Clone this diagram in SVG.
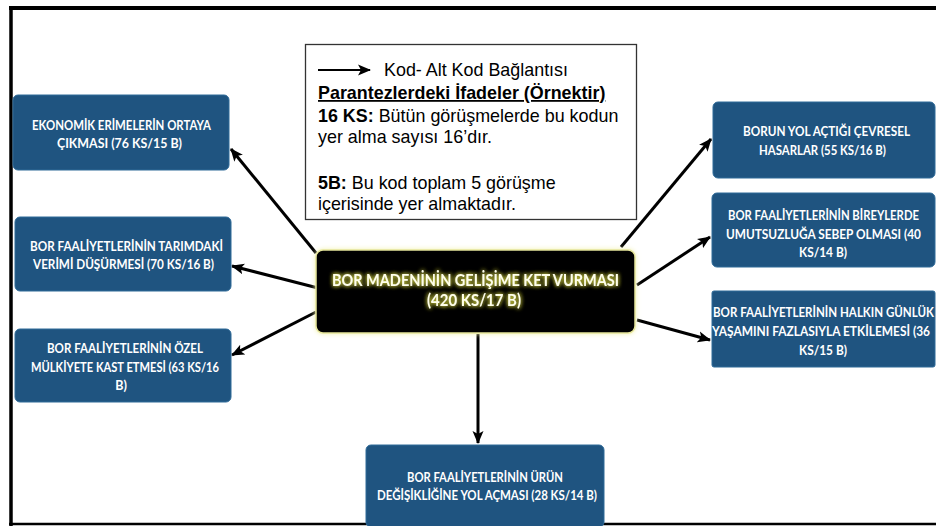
<svg xmlns="http://www.w3.org/2000/svg" width="936" height="526" viewBox="0 0 936 526">
<defs>
<style>
.node rect{fill:#1F5480;stroke:#2E6A98;stroke-width:1}
.node text{font-family:Lato,"Open Sans","Liberation Sans",sans-serif;font-weight:bold;font-size:12.5px;fill:#FFFFFF;text-anchor:middle}
.conn line{stroke:#000;stroke-width:3}
.legend text{font-family:"Liberation Sans",Arial,sans-serif;font-size:17.9px;fill:#000}
</style>
<marker id="ah" markerUnits="userSpaceOnUse" markerWidth="14" markerHeight="12" refX="12" refY="6" orient="auto">
<path d="M0,0.5 L13,6 L0,11.5 L3,6 Z" fill="#000"/>
</marker>
<filter id="glow" x="-10%" y="-30%" width="120%" height="160%">
<feGaussianBlur in="SourceAlpha" stdDeviation="2.2" result="b"/>
<feFlood flood-color="#C8C83A"/>
<feComposite in2="b" operator="in" result="g"/>
<feMerge><feMergeNode in="g"/><feMergeNode in="g"/><feMergeNode in="SourceGraphic"/></feMerge>
</filter>
<filter id="boxglow" x="-5%" y="-15%" width="110%" height="130%">
<feGaussianBlur in="SourceAlpha" stdDeviation="2.5" result="b"/>
<feFlood flood-color="#F2F2B0"/>
<feComposite in2="b" operator="in" result="g"/>
<feMerge><feMergeNode in="g"/><feMergeNode in="SourceGraphic"/></feMerge>
</filter>
</defs>
<rect width="936" height="526" fill="#FFFFFF"/>
<g id="frame" stroke="#000" fill="none">
<line x1="9" y1="8" x2="936" y2="8" stroke-width="4"/>
<line x1="11" y1="6" x2="11" y2="526" stroke-width="3.5"/>
<line x1="9" y1="524" x2="936" y2="524" stroke-width="2.5"/>
</g>
<g id="legend" class="legend">
<rect x="305.5" y="44.5" width="331" height="175" fill="#FFFFFF" stroke="#333" stroke-width="1.3"/>
<line x1="318" y1="70" x2="370" y2="70" stroke="#000" stroke-width="2" marker-end="url(#ah)"/>
<text x="384" y="76">Kod- Alt Kod Bağlantısı</text>
<text x="318" y="99" font-weight="bold" text-decoration="underline">Parantezlerdeki İfadeler (Örnektir)</text>
<text x="318" y="122"><tspan font-weight="bold">16 KS:</tspan> Bütün görüşmelerde bu kodun</text>
<text x="318" y="143">yer alma sayısı 16’dır.</text>
<text x="318" y="189"><tspan font-weight="bold">5B:</tspan> Bu kod toplam 5 görüşme</text>
<text x="318" y="210">içerisinde yer almaktadır.</text>
</g>
<g id="connectors" class="conn">
<line x1="316" y1="253" x2="231" y2="149" marker-end="url(#ah)"/>
<line x1="318" y1="288" x2="232" y2="266" marker-end="url(#ah)"/>
<line x1="316" y1="312" x2="232" y2="355" marker-end="url(#ah)"/>
<line x1="478" y1="334" x2="478" y2="443" marker-end="url(#ah)"/>
<line x1="621" y1="247" x2="711" y2="139" marker-end="url(#ah)"/>
<line x1="637" y1="285" x2="710" y2="237" marker-end="url(#ah)"/>
<line x1="637" y1="320" x2="710" y2="340" marker-end="url(#ah)"/>
</g>
<g id="center">
<rect x="316" y="250" width="319" height="83" rx="7" fill="#000" stroke="#E6E69A" stroke-width="1.5" filter="url(#boxglow)"/>
<text x="475.5" y="286" text-anchor="middle" font-family="Lato,'Open Sans','Liberation Sans',sans-serif" font-weight="bold" font-size="17" fill="#FFFFE8" filter="url(#glow)" textLength="287" lengthAdjust="spacingAndGlyphs">BOR MADENİNİN GELİŞİME KET VURMASI</text>
<text x="474" y="306" text-anchor="middle" font-family="Lato,'Open Sans','Liberation Sans',sans-serif" font-weight="bold" font-size="17" fill="#FFFFE8" filter="url(#glow)" textLength="94" lengthAdjust="spacingAndGlyphs">(420 KS/17 B)</text>
</g>
<g id="n1" class="node">
<rect x="13" y="95" width="216" height="75" rx="5"/>
<text x="121.5" y="130" textLength="179" lengthAdjust="spacingAndGlyphs">EKONOMİK ERİMELERİN ORTAYA</text>
<text x="119.5" y="148" textLength="125" lengthAdjust="spacingAndGlyphs">ÇIKMASI (76 KS/15 B)</text>
</g>
<g id="n2" class="node">
<rect x="15" y="217" width="216" height="74" rx="5"/>
<text x="126.5" y="251" textLength="193" lengthAdjust="spacingAndGlyphs">BOR FAALİYETLERİNİN TARIMDAKİ</text>
<text x="123.5" y="269" textLength="181" lengthAdjust="spacingAndGlyphs">VERİMİ DÜŞÜRMESİ (70 KS/16 B)</text>
</g>
<g id="n3" class="node">
<rect x="15" y="329" width="216" height="73" rx="5"/>
<text x="125" y="353" textLength="156" lengthAdjust="spacingAndGlyphs">BOR FAALİYETLERİNİN ÖZEL</text>
<text x="125" y="372" textLength="188" lengthAdjust="spacingAndGlyphs">MÜLKİYETE KAST ETMESİ (63 KS/16</text>
<text x="121" y="390">B)</text>
</g>
<g id="n4" class="node">
<rect x="366" y="445" width="238" height="82" rx="5"/>
<text x="485" y="482" textLength="156" lengthAdjust="spacingAndGlyphs">BOR FAALİYETLERİNİN ÜRÜN</text>
<text x="487" y="500" textLength="220" lengthAdjust="spacingAndGlyphs">DEĞİŞİKLİĞİNE YOL AÇMASI (28 KS/14 B)</text>
</g>
<g id="n5" class="node">
<rect x="713" y="102" width="222" height="76" rx="5"/>
<text x="826.5" y="136" textLength="167" lengthAdjust="spacingAndGlyphs">BORUN YOL AÇTIĞI ÇEVRESEL</text>
<text x="822.5" y="155" textLength="127" lengthAdjust="spacingAndGlyphs">HASARLAR (55 KS/16 B)</text>
</g>
<g id="n6" class="node">
<rect x="712" y="193" width="223" height="74" rx="5"/>
<text x="823.5" y="220" font-size="12" textLength="191" lengthAdjust="spacingAndGlyphs">BOR FAALİYETLERİNİN BİREYLERDE</text>
<text x="823.5" y="239" font-size="12" textLength="195" lengthAdjust="spacingAndGlyphs">UMUTSUZLUĞA SEBEP OLMASI (40</text>
<text x="823" y="257" textLength="48" lengthAdjust="spacingAndGlyphs">KS/14 B)</text>
</g>
<g id="n7" class="node">
<rect x="712" y="291" width="223" height="76" rx="2"/>
<text x="823.5" y="317" font-size="11" textLength="221" lengthAdjust="spacingAndGlyphs">BOR FAALİYETLERİNİN HALKIN GÜNLÜK</text>
<text x="821" y="336" font-size="11.5" textLength="218" lengthAdjust="spacingAndGlyphs">YAŞAMINI FAZLASIYLA ETKİLEMESİ (36</text>
<text x="823" y="355" textLength="48" lengthAdjust="spacingAndGlyphs">KS/15 B)</text>
</g>
</svg>
